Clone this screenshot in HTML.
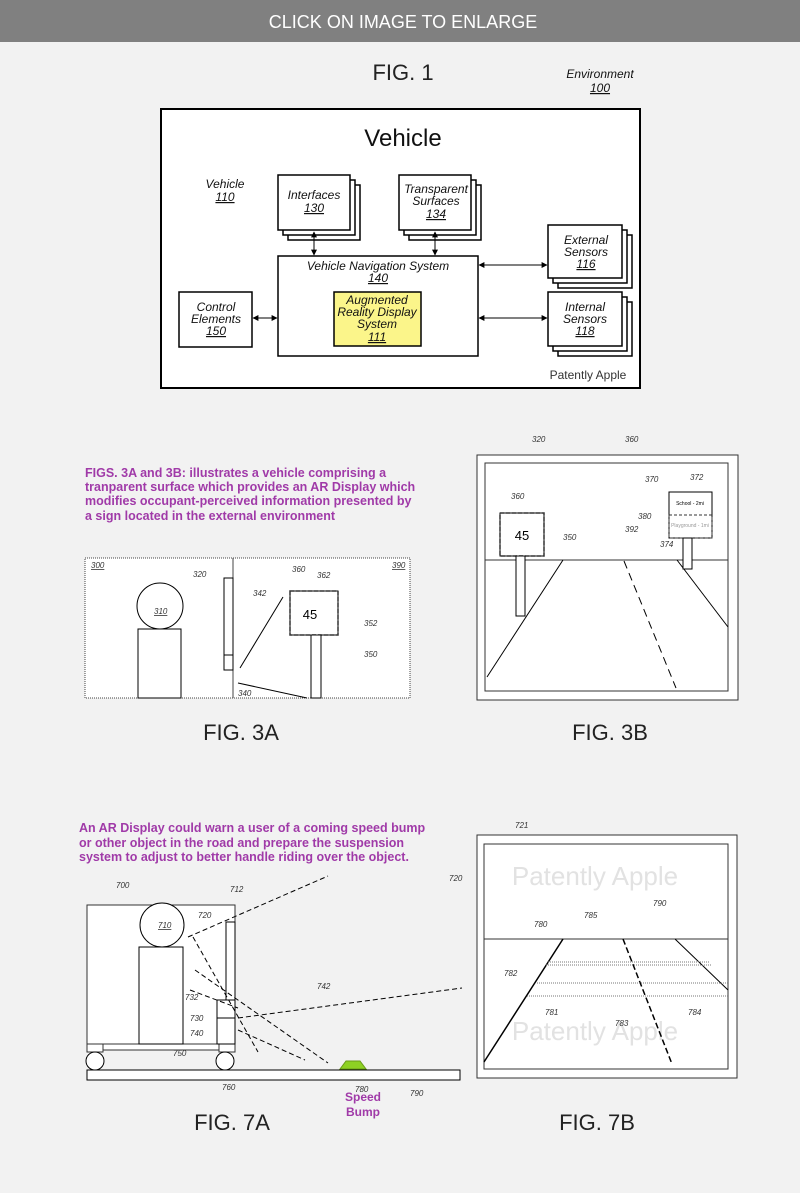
<!DOCTYPE html>
<html><head><meta charset="utf-8"><style>
html,body{margin:0;padding:0;background:#f2f2f2;}
svg{display:block;}
text{font-family:"Liberation Sans",sans-serif;}
.i{font-style:italic;font-size:12px;fill:#111;}
.s{font-style:italic;font-size:8px;fill:#333;}
.p{fill:#a03aa8;font-size:12.5px;font-weight:bold;}
.f{font-size:22px;fill:#222;}
</style></head><body>
<svg width="800" height="1193" viewBox="0 0 800 1193" xmlns="http://www.w3.org/2000/svg">
<defs>
<marker id="a" viewBox="0 0 10 10" refX="9" refY="5" markerWidth="6" markerHeight="6" orient="auto-start-reverse"><path d="M0,0L10,5L0,10z" fill="#000"/></marker>
</defs>
<rect x="0" y="0" width="800" height="42" fill="#808080"/>
<text x="403" y="28" text-anchor="middle" font-size="18" fill="#fff">CLICK ON IMAGE TO ENLARGE</text>

<text x="403" y="80" text-anchor="middle" font-size="22" fill="#222">FIG. 1</text>
<text x="600" y="78" text-anchor="middle" class="i">Environment</text>
<text x="600" y="92" text-anchor="middle" class="i" text-decoration="underline">100</text>

<rect x="161" y="109" width="479" height="279" fill="#fff" stroke="#000" stroke-width="2"/>
<text x="403" y="146" text-anchor="middle" font-size="24" fill="#111">Vehicle</text>
<text x="225" y="188" text-anchor="middle" class="i">Vehicle</text>
<text x="225" y="201" text-anchor="middle" class="i" text-decoration="underline">110</text>

<g fill="#fff" stroke="#000" stroke-width="1.5">
<rect x="288" y="185" width="72" height="55"/><rect x="283" y="180" width="72" height="55"/><rect x="278" y="175" width="72" height="55"/>
<rect x="409" y="185" width="72" height="55"/><rect x="404" y="180" width="72" height="55"/><rect x="399" y="175" width="72" height="55"/>
<rect x="558" y="235" width="74" height="53"/><rect x="553" y="230" width="74" height="53"/><rect x="548" y="225" width="74" height="53"/>
<rect x="558" y="302" width="74" height="54"/><rect x="553" y="297" width="74" height="54"/><rect x="548" y="292" width="74" height="54"/>
<rect x="278" y="256" width="200" height="100"/>
<rect x="179" y="292" width="73" height="55"/>
</g>
<rect x="334" y="292" width="87" height="54" fill="#fbf58a" stroke="#000" stroke-width="1.5"/>
<g stroke="#000" stroke-width="1" marker-start="url(#a)" marker-end="url(#a)">
<line x1="314" y1="232" x2="314" y2="255"/><line x1="435" y1="232" x2="435" y2="255"/>
<line x1="253" y1="318" x2="277" y2="318"/><line x1="479" y1="265" x2="547" y2="265"/><line x1="479" y1="318" x2="547" y2="318"/>
</g>
<text x="314" y="199" text-anchor="middle" class="i">Interfaces</text>
<text x="314" y="212" text-anchor="middle" class="i" text-decoration="underline">130</text>
<text x="436" y="193" text-anchor="middle" class="i">Transparent</text>
<text x="436" y="205" text-anchor="middle" class="i">Surfaces</text>
<text x="436" y="218" text-anchor="middle" class="i" text-decoration="underline">134</text>
<text x="378" y="270" text-anchor="middle" class="i">Vehicle Navigation System</text>
<text x="378" y="282" text-anchor="middle" class="i" text-decoration="underline">140</text>
<text x="377" y="304" text-anchor="middle" class="i">Augmented</text>
<text x="377" y="316" text-anchor="middle" class="i">Reality Display</text>
<text x="377" y="328" text-anchor="middle" class="i">System</text>
<text x="377" y="341" text-anchor="middle" class="i" text-decoration="underline">111</text>
<text x="216" y="311" text-anchor="middle" class="i">Control</text>
<text x="216" y="323" text-anchor="middle" class="i">Elements</text>
<text x="216" y="335" text-anchor="middle" class="i" text-decoration="underline">150</text>
<text x="586" y="244" text-anchor="middle" class="i">External</text>
<text x="586" y="256" text-anchor="middle" class="i">Sensors</text>
<text x="586" y="268" text-anchor="middle" class="i" text-decoration="underline">116</text>
<text x="585" y="311" text-anchor="middle" class="i">Internal</text>
<text x="585" y="323" text-anchor="middle" class="i">Sensors</text>
<text x="585" y="335" text-anchor="middle" class="i" text-decoration="underline">118</text>
<text x="588" y="379" text-anchor="middle" font-size="12" fill="#333">Patently Apple</text>

<text class="p" x="85" y="477">FIGS. 3A and 3B: illustrates a vehicle comprising a</text>
<text class="p" x="85" y="491">tranparent surface which provides an AR Display which</text>
<text class="p" x="85" y="505">modifies occupant-perceived information presented by</text>
<text class="p" x="85" y="520">a sign located in the external environment</text>

<!-- 3A -->
<rect x="85" y="558" width="325" height="140" fill="#fff" stroke="#444" stroke-dasharray="1,1"/>
<line x1="233" y1="558" x2="233" y2="698" stroke="#444"/>
<circle cx="160" cy="606" r="23" fill="#fff" stroke="#000"/>
<rect x="138" y="629" width="43" height="69" fill="#fff" stroke="#000"/>
<rect x="224" y="578" width="9" height="92" fill="#fff" stroke="#000"/>
<line x1="224" y1="655" x2="233" y2="655" stroke="#000"/>
<line x1="240" y1="668" x2="283" y2="597" stroke="#000"/>
<line x1="238" y1="683" x2="307" y2="698" stroke="#000"/>
<rect x="290" y="591" width="48" height="44" fill="#fff" stroke="#000"/>
<rect x="290" y="591" width="48" height="44" fill="none" stroke="#333" stroke-width="1.5" stroke-dasharray="4,2"/>
<rect x="311" y="635" width="10" height="63" fill="#fff" stroke="#000"/>
<text x="310" y="619" text-anchor="middle" font-size="13">45</text>
<g class="s"><text x="91" y="568" text-decoration="underline">300</text><text x="392" y="568" text-decoration="underline">390</text>
<text x="194" y="633" text-decoration="underline" transform="translate(-40,-19)">310</text>
<text x="193" y="577">320</text><text x="253" y="596">342</text><text x="292" y="572">360</text><text x="317" y="578">362</text>
<text x="364" y="626">352</text><text x="364" y="657">350</text><text x="238" y="696">340</text></g>

<!-- 3B -->
<rect x="477" y="455" width="261" height="245" fill="#fff" stroke="#333"/>
<rect x="485" y="463" width="243" height="228" fill="#fff" stroke="#333"/>
<line x1="485" y1="560" x2="728" y2="560" stroke="#333"/>
<line x1="563" y1="560" x2="487" y2="677" stroke="#000"/>
<line x1="677" y1="560" x2="728" y2="627" stroke="#000"/>
<line x1="624" y1="561" x2="676" y2="688" stroke="#000" stroke-dasharray="8,5"/>
<rect x="500" y="513" width="44" height="43" fill="#fff" stroke="#000"/>
<rect x="500" y="513" width="44" height="43" fill="none" stroke="#333" stroke-width="1.5" stroke-dasharray="4,2"/>
<rect x="516" y="556" width="9" height="60" fill="#fff" stroke="#000"/>
<text x="522" y="540" text-anchor="middle" font-size="13">45</text>
<rect x="669" y="492" width="43" height="46" fill="#fff" stroke="#000"/>
<line x1="669" y1="515" x2="712" y2="515" stroke="#333" stroke-dasharray="3,2"/>
<rect x="669" y="515" width="43" height="23" fill="none" stroke="#333" stroke-dasharray="3,2"/>
<rect x="683" y="538" width="9" height="31" fill="#fff" stroke="#000"/>
<text x="690" y="505" text-anchor="middle" font-size="5">School - 2mi</text>
<text x="690" y="527" text-anchor="middle" font-size="5" fill="#999">Playground - 1mi</text>
<g class="s"><text x="532" y="442">320</text><text x="625" y="442">360</text><text x="511" y="499">360</text><text x="563" y="540">350</text>
<text x="645" y="482">370</text><text x="690" y="480">372</text><text x="638" y="519">380</text><text x="625" y="532">392</text><text x="660" y="547">374</text></g>

<text x="241" y="740" text-anchor="middle" class="f">FIG. 3A</text>
<text x="610" y="740" text-anchor="middle" class="f">FIG. 3B</text>

<text class="p" x="79" y="832">An AR Display could warn a user of a coming speed bump</text>
<text class="p" x="79" y="847">or other object in the road and prepare the suspension</text>
<text class="p" x="79" y="861">system to adjust to better handle riding over the object.</text>

<!-- 7A -->
<rect x="87" y="905" width="148" height="145" fill="#fff" stroke="#333"/>
<line x1="87" y1="1044" x2="235" y2="1044" stroke="#333"/>
<rect x="87" y="1044" width="16" height="8" fill="#fff" stroke="#333"/>
<rect x="219" y="1044" width="16" height="8" fill="#fff" stroke="#333"/>
<circle cx="162" cy="925" r="22" fill="#fff" stroke="#000"/>
<rect x="139" y="947" width="44" height="97" fill="#fff" stroke="#000"/>
<rect x="226" y="922" width="9" height="78" fill="#fff" stroke="#000"/>
<rect x="217" y="1000" width="18" height="44" fill="#fff" stroke="#000"/>
<line x1="217" y1="1018" x2="235" y2="1018" stroke="#000"/>
<circle cx="95" cy="1061" r="9" fill="#fff" stroke="#000"/>
<circle cx="225" cy="1061" r="9" fill="#fff" stroke="#000"/>
<rect x="87" y="1070" width="373" height="10" fill="#fff" stroke="#000"/>
<path d="M340,1069 L346,1061 L360,1061 L366,1069z" fill="#8ed123" stroke="#6a9a1a"/>
<g stroke="#000" stroke-dasharray="5,3" fill="none">
<line x1="188" y1="937" x2="328" y2="876"/>
<line x1="195" y1="970" x2="328" y2="1063"/>
<line x1="193" y1="937" x2="258" y2="1052"/>
<line x1="238" y1="1018" x2="462" y2="988"/>
<line x1="238" y1="1030" x2="305" y2="1060"/>
<line x1="190" y1="990" x2="238" y2="1008"/>
</g>
<g class="s"><text x="116" y="888">700</text><text x="230" y="892">712</text><text x="198" y="921" text-decoration="underline" transform="translate(-40,7)">710</text>
<text x="198" y="918">720</text><text x="185" y="1000">732</text><text x="190" y="1021">730</text><text x="190" y="1036">740</text>
<text x="173" y="1056">750</text><text x="222" y="1090">760</text><text x="317" y="989">742</text><text x="355" y="1092">780</text><text x="410" y="1096">790</text></g>
<text x="363" y="1101" text-anchor="middle" font-size="12" font-weight="bold" fill="#a03aa8">Speed</text>
<text x="363" y="1116" text-anchor="middle" font-size="12" font-weight="bold" fill="#a03aa8">Bump</text>

<!-- 7B -->
<rect x="477" y="835" width="260" height="243" fill="#fff" stroke="#333"/>
<rect x="484" y="844" width="244" height="225" fill="#fff" stroke="#333"/>
<text x="595" y="885" text-anchor="middle" font-size="26" fill="#e2e2e2">Patently Apple</text>
<text x="595" y="1040" text-anchor="middle" font-size="26" fill="#e2e2e2">Patently Apple</text>
<line x1="484" y1="939" x2="728" y2="939" stroke="#333"/>
<line x1="563" y1="939" x2="484" y2="1062" stroke="#000" stroke-width="1.5"/>
<line x1="675" y1="939" x2="728" y2="990" stroke="#000"/>
<line x1="623" y1="939" x2="672" y2="1064" stroke="#000" stroke-width="1.5" stroke-dasharray="6,3"/>
<g stroke="#777" stroke-dasharray="1,1"><line x1="548" y1="962" x2="710" y2="962"/><line x1="546" y1="965" x2="712" y2="965"/><line x1="537" y1="983" x2="728" y2="983"/><line x1="527" y1="996" x2="728" y2="996"/></g>
<g class="s"><text x="515" y="828">721</text><text x="449" y="881">720</text><text x="653" y="906">790</text><text x="584" y="918">785</text>
<text x="534" y="927">780</text><text x="504" y="976">782</text><text x="545" y="1015">781</text><text x="615" y="1026">783</text><text x="688" y="1015">784</text></g>

<text x="232" y="1130" text-anchor="middle" class="f">FIG. 7A</text>
<text x="597" y="1130" text-anchor="middle" class="f">FIG. 7B</text>
</svg>
</body></html>
